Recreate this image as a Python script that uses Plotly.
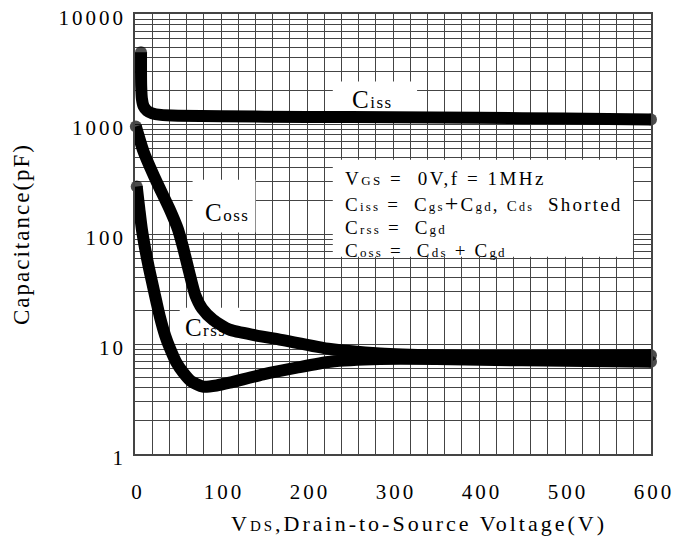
import plotly.graph_objects as go

# ---------------- data ----------------
ciss_v = [7, 7, 7.2, 8, 10, 14, 20, 30, 50, 100, 200, 300, 400, 500, 600]
ciss_c = [4500, 3000, 2200, 1700, 1450, 1320, 1250, 1210, 1190, 1175, 1160, 1150, 1140, 1120, 1100]

coss_v = [1, 10, 25, 40, 50, 56, 63, 70, 78, 91, 110, 140, 170, 227, 285, 350, 450, 600]
coss_c = [950, 560, 300, 170, 110, 75, 45, 28, 21, 16.5, 13.5, 12, 10.9, 9.0, 8.2, 7.9, 7.8, 7.9]

crss_v = [2, 5, 8, 12, 16, 20, 25, 29, 35, 41, 48, 56, 65, 79, 95, 110, 149, 188, 227, 285, 350, 450, 600]
crss_c = [270, 170, 110, 72, 50, 36, 24, 17.6, 12, 9.0, 6.8, 5.5, 4.6, 4.1, 4.2, 4.45, 5.3, 6.1, 6.9, 7.3, 7.3, 7.1, 6.9]

x_ticks = [0, 100, 200, 300, 400, 500, 600]
y_ticks = [1, 10, 100, 1000, 10000]

FONT = "Liberation Serif, Times New Roman, serif"


def ls(text, sp):
    return '<span style="letter-spacing:%spx">%s</span>' % (sp, text)


def small(text, size):
    return '<span style="font-size:%dpx">%s</span>' % (size, text)


fig = go.Figure()

# white panels that hide the grid behind the labels (V range, C range)
panels = [
    ((230, 579), (62, 474)),     # condition box
    ((230, 328), (1097, 2430)),  # Ciss label
    ((67, 140), (103, 312)),     # Coss label
    ((52, 122), (10.2, 21.4)),   # Crss label
]
for (xa, xb), (ya, yb) in panels:
    fig.add_trace(go.Scatter(
        x=[xa, xb, xb, xa, xa], y=[ya, ya, yb, yb, ya], mode="lines",
        fill="toself", fillcolor="white", line=dict(width=0, color="white"),
        hoverinfo="skip", showlegend=False))

# Crss label sits beneath the curves
fig.add_trace(go.Scatter(
    x=[58], y=[13.5], mode="text", textposition="middle right",
    text=[ls("C" + small("rss", 17), 1.5)],
    textfont=dict(family=FONT, size=25, color="black"),
    hoverinfo="skip", showlegend=False, cliponaxis=False))

LW = 12
for xs, ys in [(ciss_v, ciss_c), (coss_v, coss_c), (crss_v, crss_c)]:
    sizes = [LW] + [0] * (len(xs) - 2) + [LW]
    fig.add_trace(go.Scatter(
        x=xs, y=ys, mode="lines+markers",
        line=dict(color="black", width=LW, shape="spline", smoothing=0.6),
        marker=dict(size=sizes, color="black", line=dict(width=0)),
        cliponaxis=False, showlegend=False, hoverinfo="skip"))

ann_font = dict(family=FONT, size=19, color="black")
annotations = [
    dict(x=0.417, y=0.805, xref="paper", yref="paper", xanchor="left", yanchor="middle",
         showarrow=False, text=ls("C" + small("iss", 17), 1.5),
         font=dict(family=FONT, size=25, color="black")),
    dict(x=0.132, y=0.548, xref="paper", yref="paper", xanchor="left", yanchor="middle",
         showarrow=False, text=ls("C" + small("oss", 17), 1.5),
         font=dict(family=FONT, size=25, color="black")),
    dict(x=0.403, y=0.626, xref="paper", yref="paper", xanchor="left", yanchor="middle",
         showarrow=False, font=ann_font,
         text=ls("V" + small("GS", 13) + " =  0V,f = 1MHz", 2.5)),
    dict(x=0.403, y=0.570, xref="paper", yref="paper", xanchor="left", yanchor="middle",
         showarrow=False, font=ann_font,
         text=ls("C" + small("iss", 13) + " =  C" + small("gs", 13) + small("+", 24) + "C"
                 + small("gd", 13) + ", " + small("C", 15) + small("ds", 12) + "  Shorted", 2.2)),
    dict(x=0.403, y=0.514, xref="paper", yref="paper", xanchor="left", yanchor="middle",
         showarrow=False, font=ann_font,
         text=ls("C" + small("rss", 13) + " =  C" + small("gd", 13), 2.2)),
    dict(x=0.403, y=0.462, xref="paper", yref="paper", xanchor="left", yanchor="middle",
         showarrow=False, font=ann_font,
         text=ls("C" + small("oss", 13) + " =  C" + small("ds", 13) + " + C" + small("gd", 13), 2.2)),
    # x-axis title (sits slightly right of the plot centre in the reference)
    dict(x=0.55, y=-0.157, xref="paper", yref="paper", xanchor="center", yanchor="middle",
         showarrow=False, font=dict(family=FONT, size=22, color="black"),
         text=ls("V" + small("DS", 15) + ",Drain-to-Source Voltage(V)", 3)),
]

GRID = "#444"
tick_font = dict(family=FONT, size=21, color="black")

fig.update_layout(
    width=685, height=534,
    margin=dict(l=127, r=42, t=6, b=88),
    paper_bgcolor="white", plot_bgcolor="white",
    font=dict(family=FONT, color="black"),
    showlegend=False, annotations=annotations,
    xaxis=dict(
        range=[0, 600], tickmode="array", tickvals=x_ticks,
        ticktext=[ls(str(v), 3) for v in x_ticks],
        tickfont=tick_font, ticks="", ticklabelstandoff=18, ticklabelshift=3,
        showgrid=True, gridcolor=GRID, gridwidth=1,
        minor=dict(tickmode="array", tickvals=list(range(0, 601, 20)),
                   showgrid=True, gridcolor=GRID, gridwidth=1, ticks=""),
        showline=True, mirror=True, linecolor=GRID, linewidth=1.5,
        zeroline=False, automargin=False,
    ),
    yaxis=dict(
        type="log", range=[0, 4], tickmode="array", tickvals=y_ticks,
        ticktext=[ls(str(v), 3) for v in y_ticks],
        tickfont=tick_font, ticks="", ticklabelstandoff=3, ticklabelshift=4,
        ticklabeloverflow="allow",
        showgrid=True, gridcolor=GRID, gridwidth=1,
        minor=dict(tickmode="array",
                   tickvals=[m * 10 ** e for e in range(4) for m in range(2, 10)],
                   showgrid=True, gridcolor=GRID, gridwidth=1, ticks=""),
        showline=True, mirror=True, linecolor=GRID, linewidth=1.5,
        zeroline=False, automargin=False,
        title=dict(text=ls("Capacitance(pF)", 2),
                   font=dict(family=FONT, size=23, color="black"), standoff=22),
    ),
)

fig.write_html("out.html")
